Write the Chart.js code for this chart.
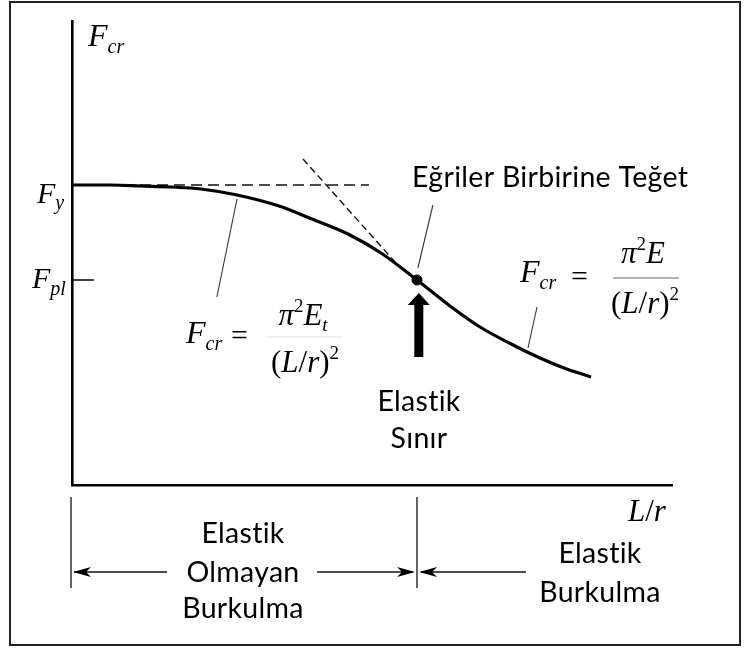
<!DOCTYPE html>
<html>
<head>
<meta charset="utf-8">
<script src="https://cdn.jsdelivr.net/npm/chart.js@4"></script>
<style>
  html, body { margin: 0; padding: 0; background: #fff; }
  #wrap { width: 746px; height: 650px; position: relative; }
</style>
</head>
<body>
<div id="wrap"><canvas id="buckling"></canvas></div>
<script>
// column curve: slenderness L/r vs critical stress Fcr
const LR  = [0, 13, 23, 33, 43, 55, 69, 80, 92, 103, 115, 126, 136, 149, 156, 164, 173];
const FCR = [30, 30, 29.9, 29.8, 29.6, 29, 27.9, 26.6, 25.1, 23.2, 20.5, 17.9, 15.8, 13.7, 12.7, 11.7, 10.8];

const FY = 30;          // yield stress
const FPL = 20.5;       // proportional limit
const LR_LIMIT = 115;   // elastic limit slenderness
const FY_DASH_END = 99; // end of the Fy dashed line
const TANGENT_LR = [77, 107.7];
const TANGENT_FCR = [32.6, 22.3];

const X_MAX = 200, Y_MAX = 46.4;

const curve = LR.map((x, i) => ({ x: x, y: FCR[i] }));

function drawRuns(ctx, x, y, runs, align) {
    // runs: [text, size, dy, italic]
    const fontOf = r => (r[3] ? 'italic ' : '') + r[1] + 'px "Liberation Serif"';
    let total = 0;
    runs.forEach(r => { ctx.font = fontOf(r); total += ctx.measureText(r[0]).width; });
    let cx = align === 'center' ? x - total / 2 : x;
    ctx.textAlign = 'left';
    ctx.textBaseline = 'alphabetic';
    runs.forEach(r => {
        ctx.font = fontOf(r);
        ctx.fillText(r[0], cx, y + r[2]);
        cx += ctx.measureText(r[0]).width;
    });
    return total;
}

function line(ctx, x1, y1, x2, y2, w) {
    ctx.lineWidth = w;
    ctx.beginPath();
    ctx.moveTo(x1, y1);
    ctx.lineTo(x2, y2);
    ctx.stroke();
}

function arrowHead(ctx, tx, ty, dir) {
    // small barbed head, dir = +1 points right, -1 points left
    ctx.beginPath();
    ctx.moveTo(tx, ty);
    ctx.lineTo(tx - dir * 18, ty - 5);
    ctx.lineTo(tx - dir * 13, ty);
    ctx.lineTo(tx - dir * 18, ty + 5);
    ctx.closePath();
    ctx.fill();
}

const annotations = {
    id: 'annotations',
    beforeDraw(chart) {
        const ctx = chart.ctx;
        ctx.save();
        ctx.fillStyle = '#fff';
        ctx.fillRect(0, 0, chart.width, chart.height);
        ctx.strokeStyle = '#222';
        ctx.lineWidth = 2;
        ctx.strokeRect(10, 2, 730, 643);
        ctx.restore();
    },
    afterDatasetsDraw(chart) {
        const ctx = chart.ctx;
        const xs = chart.scales.x, ys = chart.scales.y;
        const px = v => xs.getPixelForValue(v);
        const py = v => ys.getPixelForValue(v);
        ctx.save();
        ctx.strokeStyle = '#111';
        ctx.fillStyle = '#000';

        // Fpl tick
        line(ctx, px(0), py(FPL), px(7.3), py(FPL), 1.6);

        // leader lines
        ctx.strokeStyle = '#333';
        line(ctx, px(120.3), py(28), px(115.3), py(21.7), 1.1);
        line(ctx, px(55), py(28.6), px(48.3), py(18.8), 1.1);
        line(ctx, px(155), py(17.8), px(152), py(13.7), 1.1);
        ctx.strokeStyle = '#111';

        // elastic limit arrow
        const ax = px(LR_LIMIT + 0.6);
        const tip = py(FPL) + 13, headBase = tip + 12, tail = tip + 64;
        ctx.fillRect(ax - 4.5, headBase - 1, 9, tail - headBase + 1);
        ctx.beginPath();
        ctx.moveTo(ax, tip);
        ctx.lineTo(ax + 11, headBase);
        ctx.lineTo(ax - 11, headBase);
        ctx.closePath();
        ctx.fill();

        // range dimension lines below the axis
        const yTop = py(-1.2), yBot = py(-10.3), yArr = py(-8.7);
        line(ctx, px(0) - 1, yTop, px(0) - 1, yBot, 1.3);
        line(ctx, px(LR_LIMIT), yTop, px(LR_LIMIT), yBot, 1.3);
        line(ctx, px(0) + 2, yArr, px(31.7), yArr, 1.5);
        arrowHead(ctx, px(0) + 1, yArr, -1);
        line(ctx, px(81.7), yArr, px(LR_LIMIT) - 4, yArr, 1.5);
        arrowHead(ctx, px(LR_LIMIT) - 2, yArr, 1);
        line(ctx, px(LR_LIMIT) + 4, yArr, px(151.3), yArr, 1.5);
        arrowHead(ctx, px(LR_LIMIT) + 2, yArr, -1);

        // axis symbols
        drawRuns(ctx, 88, 46, [['F', 32, 0, true], ['cr', 20, 7, true]]);
        drawRuns(ctx, 37, 203, [['F', 30, 0, true], ['y', 20, 6, true]]);
        drawRuns(ctx, 32, 288, [['F', 30, 0, true], ['pl', 20, 7, true]]);
        drawRuns(ctx, 628, 521, [['L', 31, 0, true], ['/', 31, 0, false], ['r', 31, 0, true]]);

        // inelastic formula
        drawRuns(ctx, 186, 343, [['F', 32, 0, true], ['cr', 20, 7, true]]);
        drawRuns(ctx, 231, 345, [['=', 30, 0, false]]);
        drawRuns(ctx, 303, 325, [['π', 31, 0, true], ['2', 19, -13, false], ['E', 31, 0, true], ['t', 19, 6, true]], 'center');
        ctx.strokeStyle = '#e2e2e2';
        line(ctx, 267, 337, 343, 337, 1);
        drawRuns(ctx, 305, 372, [['(', 31, 0, false], ['L', 31, 0, true], ['/', 31, 0, false], ['r', 31, 0, true], [')', 31, 0, false], ['2', 19, -13, false]], 'center');

        // elastic (Euler) formula
        drawRuns(ctx, 520, 282, [['F', 32, 0, true], ['cr', 20, 7, true]]);
        drawRuns(ctx, 571, 286, [['=', 30, 0, false]]);
        drawRuns(ctx, 643, 263, [['π', 31, 0, true], ['2', 19, -13, false], ['E', 31, 0, true]], 'center');
        ctx.strokeStyle = '#666';
        line(ctx, 613, 278, 679, 278, 1.2);
        drawRuns(ctx, 645, 313, [['(', 31, 0, false], ['L', 31, 0, true], ['/', 31, 0, false], ['r', 31, 0, true], [')', 31, 0, false], ['2', 19, -13, false]], 'center');

        // Turkish labels
        ctx.fillStyle = '#000';
        ctx.font = '28.5px Lato';
        ctx.letterSpacing = '0.3px';
        ctx.textBaseline = 'alphabetic';
        ctx.textAlign = 'left';
        ctx.fillText('Eğriler Birbirine Teğet', 412, 187);
        ctx.textAlign = 'center';
        ctx.fillText('Elastik', 419, 411);
        ctx.fillText('Sınır', 419, 448);
        ctx.fillText('Elastik', 243, 543);
        ctx.fillText('Olmayan', 243, 582);
        ctx.fillText('Burkulma', 243, 618);
        ctx.fillText('Elastik', 600, 563);
        ctx.fillText('Burkulma', 600, 602);
        ctx.restore();
    }
};

new Chart(document.getElementById('buckling'), {
    type: 'scatter',
    data: {
        datasets: [
            {
                data: curve, showLine: true, borderColor: '#000', borderWidth: 3.2,
                pointRadius: 0, cubicInterpolationMode: 'monotone'
            },
            {
                data: [{ x: 0, y: FY }, { x: FY_DASH_END, y: FY }], showLine: true,
                borderColor: '#111', borderWidth: 1.5, borderDash: [11, 6], pointRadius: 0
            },
            {
                data: TANGENT_LR.map((x, i) => ({ x: x, y: TANGENT_FCR[i] })), showLine: true,
                borderColor: '#111', borderWidth: 1.4, borderDash: [7, 4], pointRadius: 0
            },
            {
                data: [{ x: LR_LIMIT, y: FPL }], pointRadius: 5, pointBackgroundColor: '#000',
                pointBorderColor: '#000', showLine: false
            }
        ]
    },
    options: {
        responsive: true,
        maintainAspectRatio: false,
        animation: false,
        events: [],
        layout: { padding: { left: 72, right: 74, top: 21, bottom: 165 } },
        plugins: { legend: { display: false }, tooltip: { enabled: false } },
        scales: {
            x: {
                type: 'linear', min: 0, max: X_MAX,
                grid: { display: false, drawTicks: false },
                ticks: { display: false },
                border: { color: '#000', width: 2.6 },
                afterFit: s => { s.height = 0; }
            },
            y: {
                type: 'linear', min: 0, max: Y_MAX,
                grid: { display: false, drawTicks: false },
                ticks: { display: false },
                border: { color: '#000', width: 2.6 },
                afterFit: s => { s.width = 0; }
            }
        }
    },
    plugins: [annotations]
});
</script>
</body>
</html>
